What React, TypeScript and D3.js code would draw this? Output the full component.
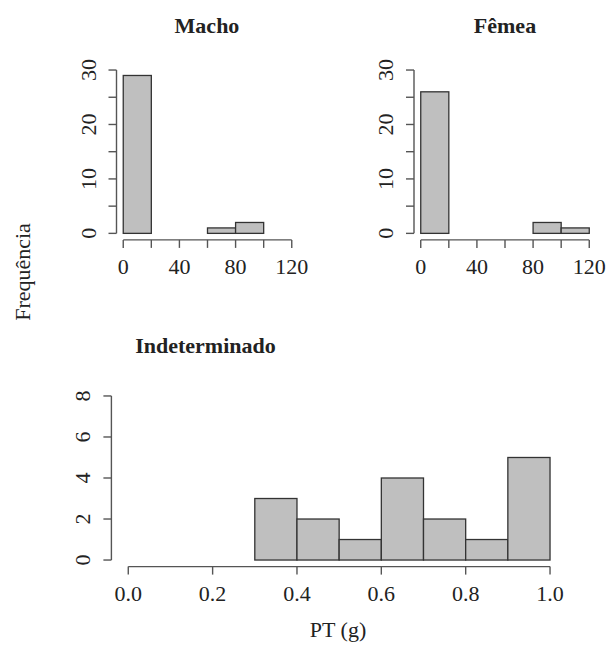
import React from "react";
import * as d3 from "d3";

// Histogram bin edges and counts for each group
const machoBreaks = [0, 20, 40, 60, 80, 100];
const machoCounts = [29, 0, 0, 1, 2];

const femeaBreaks = [0, 20, 40, 60, 80, 100, 120];
const femeaCounts = [26, 0, 0, 0, 2, 1];

const indetBreaks = [0.3, 0.4, 0.5, 0.6, 0.7, 0.8, 0.9, 1.0];
const indetCounts = [3, 2, 1, 4, 2, 1, 5];

// Axis ticks and labels
const topXTicks = [0, 20, 40, 60, 80, 100, 120];
const topXLabels = [0, 40, 80, 120];
const topYTicks = [0, 5, 10, 15, 20, 25, 30];
const topYLabels = [0, 10, 20, 30];
const indetXTicks = [0, 0.2, 0.4, 0.6, 0.8, 1.0];
const indetYTicks = [0, 2, 4, 6, 8];

const titles = ["Macho", "Fêmea", "Indeterminado"];
const xTitle = "PT (g)";
const yTitle = "Frequência";

const FONT = "'Liberation Serif', 'Times New Roman', serif";
const TEXT = "#222";
const AXIS = "#555";
const BAR_FILL = "#bfbfbf";
const BAR_STROKE = "#333";
const FS = 22;
const TICK = 8;

type PanelProps = {
  breaks: number[];
  counts: number[];
  xDomain: [number, number];
  yDomain: [number, number];
  left: number;
  top: number;
  width: number;
  height: number;
  xTicks: number[];
  xLabels: number[];
  xFmt: (v: number) => string;
  yTicks: number[];
  yLabels: number[];
  title: string;
  titleX: number;
  titleY: number;
};

function Panel(p: PanelProps) {
  // R-style 4% padding of the data range inside the plotting region
  const padX = (p.xDomain[1] - p.xDomain[0]) * 0.04;
  const padY = (p.yDomain[1] - p.yDomain[0]) * 0.04;
  const x = d3
    .scaleLinear()
    .domain([p.xDomain[0] - padX, p.xDomain[1] + padX])
    .range([p.left, p.left + p.width]);
  const y = d3
    .scaleLinear()
    .domain([p.yDomain[0] - padY, p.yDomain[1] + padY])
    .range([p.top + p.height, p.top]);

  const axisY = p.top + p.height; // bottom edge of the plot region
  const axisX = p.left; // left edge of the plot region

  const bins = p.counts.map((c, i) => ({ x0: p.breaks[i], x1: p.breaks[i + 1], c }));

  return (
    <g>
      <text
        x={p.titleX}
        y={p.titleY}
        textAnchor="middle"
        fontFamily={FONT}
        fontWeight="bold"
        fontSize={FS}
        fill={TEXT}
      >
        {p.title}
      </text>

      {bins.map((b, i) => (
        <rect
          key={i}
          x={x(b.x0)}
          y={y(b.c)}
          width={x(b.x1) - x(b.x0)}
          height={y(0) - y(b.c)}
          fill={BAR_FILL}
          stroke={BAR_STROKE}
          strokeWidth={1.3}
        />
      ))}

      {/* x axis */}
      <line
        x1={x(p.xTicks[0])}
        x2={x(p.xTicks[p.xTicks.length - 1])}
        y1={axisY}
        y2={axisY}
        stroke={AXIS}
        strokeWidth={1.4}
      />
      {p.xTicks.map((t) => (
        <line key={t} x1={x(t)} x2={x(t)} y1={axisY} y2={axisY + TICK} stroke={AXIS} strokeWidth={1.4} />
      ))}
      {p.xLabels.map((t) => (
        <text
          key={t}
          x={x(t)}
          y={axisY + 34.5}
          textAnchor="middle"
          fontFamily={FONT}
          fontSize={FS}
          fill={TEXT}
        >
          {p.xFmt(t)}
        </text>
      ))}

      {/* y axis */}
      <line
        x1={axisX}
        x2={axisX}
        y1={y(p.yTicks[0])}
        y2={y(p.yTicks[p.yTicks.length - 1])}
        stroke={AXIS}
        strokeWidth={1.4}
      />
      {p.yTicks.map((t) => (
        <line key={t} x1={axisX - TICK} x2={axisX} y1={y(t)} y2={y(t)} stroke={AXIS} strokeWidth={1.4} />
      ))}
      {p.yLabels.map((t) => (
        <text
          key={t}
          transform={`translate(${axisX - 21},${y(t)}) rotate(-90)`}
          textAnchor="middle"
          fontFamily={FONT}
          fontSize={FS}
          fill={TEXT}
        >
          {t}
        </text>
      ))}
    </g>
  );
}

export default function App() {
  const fmtInt = (v: number) => d3.format("d")(v);
  const fmt1 = (v: number) => d3.format(".1f")(v);
  return (
    <svg
      width={609}
      height={646}
      style={{ position: "absolute", left: 0, top: 0, background: "#fff" }}
    >
      <rect x={0} y={0} width={609} height={646} fill="#fff" />
      <Panel
        breaks={machoBreaks}
        counts={machoCounts}
        xDomain={[0, 120]}
        yDomain={[0, 30]}
        left={116.5}
        top={63.5}
        width={182}
        height={176.4}
        xTicks={topXTicks}
        xLabels={topXLabels}
        xFmt={fmtInt}
        yTicks={topYTicks}
        yLabels={topYLabels}
        title={titles[0]}
        titleX={207}
        titleY={33}
      />
      <Panel
        breaks={femeaBreaks}
        counts={femeaCounts}
        xDomain={[0, 120]}
        yDomain={[0, 30]}
        left={414}
        top={63.5}
        width={182}
        height={176.4}
        xTicks={topXTicks}
        xLabels={topXLabels}
        xFmt={fmtInt}
        yTicks={topYTicks}
        yLabels={topYLabels}
        title={titles[1]}
        titleX={505}
        titleY={33}
      />
      <Panel
        breaks={indetBreaks}
        counts={indetCounts}
        xDomain={[0, 1]}
        yDomain={[0, 8]}
        left={111.4}
        top={389.4}
        width={455.5}
        height={177.2}
        xTicks={indetXTicks}
        xLabels={indetXTicks}
        xFmt={fmt1}
        yTicks={indetYTicks}
        yLabels={indetYTicks}
        title={titles[2]}
        titleX={205.5}
        titleY={352.5}
      />
      <text
        x={338}
        y={636.5}
        textAnchor="middle"
        fontFamily={FONT}
        fontSize={FS}
        fill={TEXT}
      >
        {xTitle}
      </text>
      <text
        transform="translate(30,272) rotate(-90)"
        textAnchor="middle"
        fontFamily={FONT}
        fontSize={FS}
        fill={TEXT}
      >
        {yTitle}
      </text>
    </svg>
  );
}
